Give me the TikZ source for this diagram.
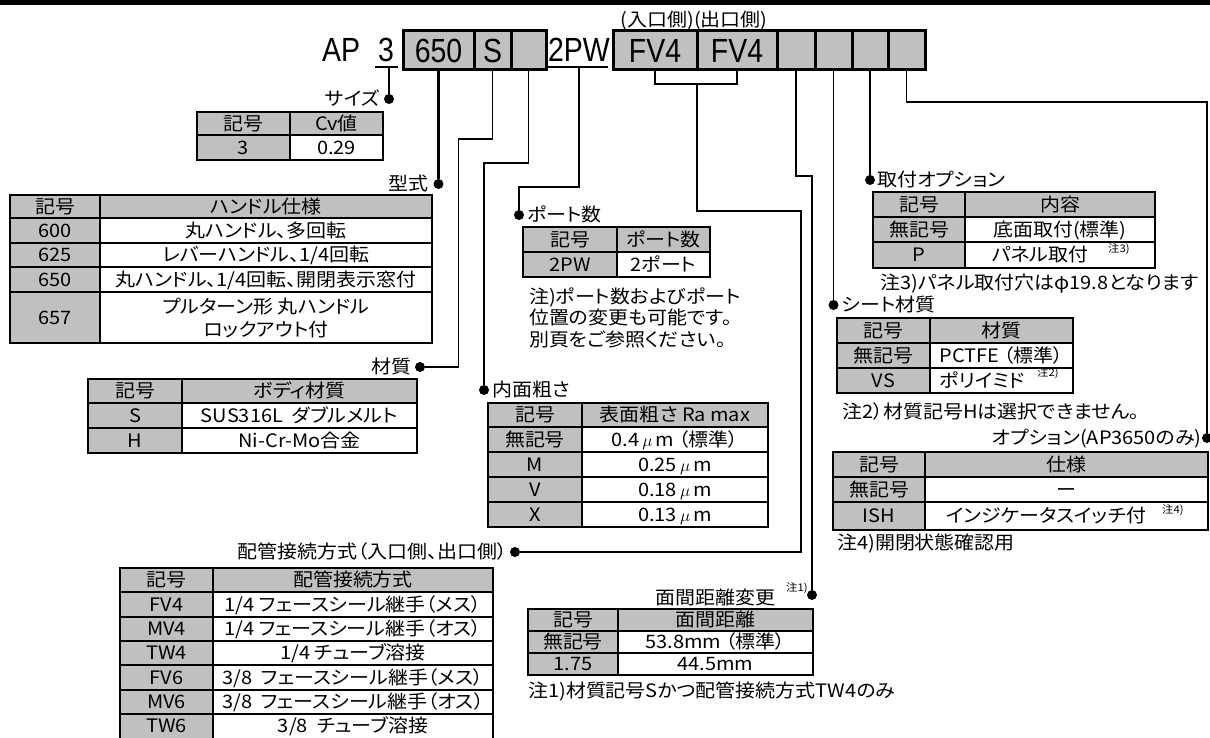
\documentclass[tikz,border=0pt]{standalone}
\usepackage{fontspec}
\setmainfont{Noto Sans CJK JP}[RawFeature=+palt, FakeStretch=1.08]
\newfontfamily\bigfont{Liberation Sans}[FakeStretch=0.85]
\usetikzlibrary{positioning}
\definecolor{cellgray}{RGB}{192,192,192}

\begin{document}
\begin{tikzpicture}[x=1pt, y=-1pt,
        bigtext/.style={font=\bigfont\fontsize{33.5}{34}\selectfont, inner sep=0pt, text height=24pt, text depth=0pt},
        hcell/.style={bigtext, draw, fill=cellgray, line width=3pt, outer sep=0pt, minimum height=39pt},
        ctext/.style={font=\fontsize{18.5}{20}\selectfont, inner sep=0pt, text height=13.9pt, text depth=0pt},
        lbl/.style={ctext},
        notetext/.style={ctext, anchor=west},
        supnote/.style={font=\fontsize{10.5}{11}\selectfont, inner sep=0pt, anchor=west},
        hd/.style={fill=cellgray},
        tabframe/.style={line width=2.4pt},
        tabrule/.style={line width=1.8pt},
        wire/.style={line width=1.3pt},
        wirebold/.style={line width=2.2pt},
        jdot/.style={circle, fill=black, inner sep=0pt, minimum size=10pt}]
    \path[use as bounding box] (0,0) rectangle (1210,738);
    \clip (0,0) rectangle (1210,738);

    \fill (0,0) rectangle (1210,5);

    \node[bigtext] (ap) at (341,50) {AP};
    \node[bigtext] (n3) at (386,50) {3};
    \draw[wire] (375,67) -- (398,67);
    \coordinate (u3) at (389,67);
    \node[hcell, minimum width=71pt] (c650) at (438.5,50.5) {650};
    \node[hcell, minimum width=37pt, right=0pt of c650] (cS) {S};
    \node[hcell, minimum width=35pt, right=0pt of cS] (cB) {};
    \node[bigtext] (n2pw) at (579,50) {2PW};
    \draw[wire] (548,67) -- (608,67);
    \coordinate (u2) at (579,67);
    \node[hcell, minimum width=84pt] (cIn) at (655,50.5) {FV4};
    \node[hcell, minimum width=80pt, right=0pt of cIn] (cOut) {FV4};
    \node[hcell, minimum width=38pt, right=0pt of cOut] (c1) {};
    \node[hcell, minimum width=37pt, right=0pt of c1] (c2) {};
    \node[hcell, minimum width=36pt, right=0pt of c2] (c3) {};
    \node[hcell, minimum width=37pt, right=0pt of c3] (c4) {};
    \node[lbl] (side) at (694,20) {(入口側)(出口側)};

    \node[jdot] (dSize) at (389,99) {};
    \node[jdot] (dType) at (438.5,184) {};
    \node[jdot] (dBody) at (420,367) {};
    \node[jdot] (dPort) at (519,215) {};
    \node[jdot] (dRough) at (484,390) {};
    \node[jdot] (dPipe) at (515,552) {};
    \node[jdot] (dFace) at (812,595) {};
    \node[jdot] (dMount) at (870,180) {};
    \node[jdot] (dSeat) at (833.5,305) {};
    \node[jdot] (dOpt) at (1207,438) {};

    \draw[wirebold] (u3) -- (dSize);
    \draw[wirebold] (c650.south) -- (dType);
    \draw[wire] (cS.south) |- ++(-34,69) |- (dBody);
    \draw[wire] (cB.south) |- ++(-44.5,93) -- (dRough);
    \draw[wire] (u2) |- ++(-60,120) -- (dPort);
    \coordinate (fvj) at (697,84);
    \draw[wire] (cIn.south) |- (fvj) -| (cOut.south);
    \draw[wire] (fvj) |- ++(104,127) |- (dPipe);
    \draw[wire] (c1.south) |- ++(16,106) -- (dFace);
    \draw[wire] (c2.south) -- (dSeat);
    \draw[wirebold] (c3.south) -- (dMount);
    \draw[wire] (c4.south) |- ++(300.5,32) -- (dOpt);

    \node[lbl, left=4pt of dSize] (lSize) {サイズ};
    \node[lbl, left=5pt of dType] (lType) {型式};
    \node[lbl, left=3pt of dBody] (lBody) {材質};
    \node[lbl, right=3pt of dPort] (lPort) {ポート数};
    \node[lbl, right=3pt of dRough] (lRough) {内面粗さ};
    \node[lbl, left=2pt of dPipe] (lPipe) {配管接続方式（入口側、出口側）};
    \node[lbl, anchor=east] (lFace) at (776,598) {面間距離変更};
    \node[supnote] (sFace) at (786,588) {注1)};
    \node[lbl, right=2pt of dMount] (lMount) {取付オプション};
    \node[lbl, right=3pt of dSeat] (lSeat) {シート材質};
    \node[lbl, left=0pt of dOpt] (lOpt) {オプション(AP3650のみ)};

    \fill[hd] (197,112) rectangle (383,135) (197,135) rectangle (290,160);
    \draw[tabrule] (290,112) -- (290,160) (197,135) -- (383,135);
    \draw[tabframe] (197,112) rectangle (383,160);
    \node[ctext] (sz00) at (243.5,123.5) {記号};
    \node[ctext] (sz01) at (336.5,123.5) {Cv値};
    \node[ctext] (sz10) at (243.5,147.5) {3};
    \node[ctext] (sz11) at (336.5,147.5) {0.29};

    \fill[hd] (10,195) rectangle (432,218) (10,218) rectangle (100,343);
    \draw[tabrule] (100,195) -- (100,343) (10,218) -- (432,218) (10,243) -- (432,243)
        (10,267) -- (432,267) (10,292) -- (432,292);
    \draw[tabframe] (10,195) rectangle (432,343);
    \node[ctext] (ty00) at (55,206.5) {記号};
    \node[ctext] (ty01) at (266,206.5) {ハンドル仕様};
    \node[ctext] (ty10) at (55,230.5) {600};
    \node[ctext] (ty11) at (266,230.5) {丸ハンドル、多回転};
    \node[ctext] (ty20) at (55,255) {625};
    \node[ctext] (ty21) at (266,255) {レバーハンドル、1/4回転};
    \node[ctext] (ty30) at (55,279.5) {650};
    \node[ctext] (ty31) at (266,279.5) {丸ハンドル、1/4回転、開閉表示窓付};
    \node[ctext] (ty40) at (55,317.5) {657};
    \node[ctext] (ty41) at (266,307) {プルターン形 丸ハンドル};
    \node[ctext] (ty42) at (266,330) {ロックアウト付};

    \fill[hd] (88,379) rectangle (417,403) (88,403) rectangle (182,453);
    \draw[tabrule] (182,379) -- (182,453) (88,403) -- (417,403) (88,428) -- (417,428);
    \draw[tabframe] (88,379) rectangle (417,453);
    \node[ctext] (bo00) at (135,391) {記号};
    \node[ctext] (bo01) at (299.5,391) {ボディ材質};
    \node[ctext] (bo10) at (135,415.5) {S};
    \node[ctext] (bo11) at (299.5,415.5) {SUS316L\ \ ダブルメルト};
    \node[ctext] (bo20) at (135,440.5) {H};
    \node[ctext] (bo21) at (299.5,440.5) {Ni-Cr-Mo合金};

    \fill[hd] (523,227) rectangle (710,252) (523,252) rectangle (617,277);
    \draw[tabrule] (617,227) -- (617,277) (523,252) -- (710,252);
    \draw[tabframe] (523,227) rectangle (710,277);
    \node[ctext] (po00) at (570,239.5) {記号};
    \node[ctext] (po01) at (663.5,239.5) {ポート数};
    \node[ctext] (po10) at (570,264.5) {2PW};
    \node[ctext] (po11) at (663.5,264.5) {2ポート};
    \node[notetext] (poN1) at (529,297) {注)ポート数およびポート};
    \node[notetext] (poN2) at (529,318) {位置の変更も可能です。};
    \node[notetext] (poN3) at (529,340) {別頁をご参照ください。};

    \fill[hd] (488,403) rectangle (768,427) (488,427) rectangle (582,527);
    \draw[tabrule] (582,403) -- (582,527) (488,427) -- (768,427) (488,452) -- (768,452)
        (488,477) -- (768,477) (488,502) -- (768,502);
    \draw[tabframe] (488,403) rectangle (768,527);
    \node[ctext] (ro00) at (535,415) {記号};
    \node[ctext] (ro01) at (675,415) {表面粗さ Ra max};
    \node[ctext] (ro10) at (535,439.5) {無記号};
    \node[ctext] (ro11) at (675,439.5) {0.4\,$\mu$\,m （標準）};
    \node[ctext] (ro20) at (535,464.5) {M};
    \node[ctext] (ro21) at (675,464.5) {0.25\,$\mu$\,m};
    \node[ctext] (ro30) at (535,489.5) {V};
    \node[ctext] (ro31) at (675,489.5) {0.18\,$\mu$\,m};
    \node[ctext] (ro40) at (535,514.5) {X};
    \node[ctext] (ro41) at (675,514.5) {0.13\,$\mu$\,m};

    \fill[hd] (120,568) rectangle (493,592) (120,592) rectangle (213,739);
    \draw[tabrule] (213,568) -- (213,739) (120,592) -- (493,592) (120,617) -- (493,617)
        (120,641) -- (493,641) (120,665) -- (493,665) (120,690) -- (493,690) (120,714) -- (493,714);
    \draw[tabframe] (120,568) rectangle (493,739);
    \node[ctext] (pi00) at (166.5,580) {記号};
    \node[ctext] (pi01) at (353,580) {配管接続方式};
    \node[ctext] (pi10) at (166.5,604.5) {FV4};
    \node[ctext] (pi11) at (353,604.5) {1/4 フェースシール継手（メス）};
    \node[ctext] (pi20) at (166.5,629) {MV4};
    \node[ctext] (pi21) at (353,629) {1/4 フェースシール継手（オス）};
    \node[ctext] (pi30) at (166.5,653) {TW4};
    \node[ctext] (pi31) at (353,653) {1/4 チューブ溶接};
    \node[ctext] (pi40) at (166.5,677.5) {FV6};
    \node[ctext] (pi41) at (353,677.5) {3/8\ \ フェースシール継手（メス）};
    \node[ctext] (pi50) at (166.5,702) {MV6};
    \node[ctext] (pi51) at (353,702) {3/8\ \ フェースシール継手（オス）};
    \node[ctext] (pi60) at (166.5,726) {TW6};
    \node[ctext] (pi61) at (353,726) {3/8\ \ チューブ溶接};

    \fill[hd] (528,609) rectangle (813,631) (528,631) rectangle (618,675);
    \draw[tabrule] (618,609) -- (618,675) (528,631) -- (813,631) (528,653) -- (813,653);
    \draw[tabframe] (528,609) rectangle (813,675);
    \node[ctext] (fa00) at (573,620) {記号};
    \node[ctext] (fa01) at (715.5,620) {面間距離};
    \node[ctext] (fa10) at (573,642) {無記号};
    \node[ctext] (fa11) at (715.5,642) {53.8mm （標準）};
    \node[ctext] (fa20) at (573,664) {1.75};
    \node[ctext] (fa21) at (715.5,664) {44.5mm};
    \node[notetext] (faN) at (528,691) {注1)材質記号Sかつ配管接続方式TW4のみ};

    \fill[hd] (873,192) rectangle (1155,217) (873,217) rectangle (965,268);
    \draw[tabrule] (965,192) -- (965,268) (873,217) -- (1155,217) (873,242) -- (1155,242);
    \draw[tabframe] (873,192) rectangle (1155,268);
    \node[ctext] (mo00) at (919,204.5) {記号};
    \node[ctext] (mo01) at (1060,204.5) {内容};
    \node[ctext] (mo10) at (919,229.5) {無記号};
    \node[ctext] (mo11) at (1060,229.5) {底面取付(標準)};
    \node[ctext] (mo20) at (919,255) {P};
    \node[ctext] (mo21) at (1040,255) {パネル取付};
    \node[supnote] (mo22) at (1108,249) {注3)};
    \node[notetext] (moN) at (880,283) {注3)パネル取付穴はφ19.8となります};

    \fill[hd] (837,318) rectangle (1073,343) (837,343) rectangle (930,393);
    \draw[tabrule] (930,318) -- (930,393) (837,343) -- (1073,343) (837,368) -- (1073,368);
    \draw[tabframe] (837,318) rectangle (1073,393);
    \node[ctext] (se00) at (883.5,330.5) {記号};
    \node[ctext] (se01) at (1001.5,330.5) {材質};
    \node[ctext] (se10) at (883.5,355.5) {無記号};
    \node[ctext] (se11) at (1001.5,355.5) {PCTFE （標準）};
    \node[ctext] (se20) at (883.5,380.5) {VS};
    \node[ctext] (se21) at (982,380.5) {ポリイミド};
    \node[supnote] (se22) at (1037,373) {注2)};
    \node[notetext] (seN) at (842,412) {注2）材質記号Hは選択できません。};

    \fill[hd] (833,452) rectangle (1208,477) (833,477) rectangle (925,530);
    \draw[tabrule] (925,452) -- (925,530) (833,477) -- (1208,477) (833,502) -- (1208,502);
    \draw[tabframe] (833,452) rectangle (1208,530);
    \node[ctext] (op00) at (879,464.5) {記号};
    \node[ctext] (op01) at (1066.5,464.5) {仕様};
    \node[ctext] (op10) at (879,489.5) {無記号};
    \node[ctext] (op11) at (1066.5,489.5) {ー};
    \node[ctext] (op20) at (879,516) {ISH};
    \node[ctext] (op21) at (1046,516) {インジケータスイッチ付};
    \node[supnote] (op22) at (1162,510) {注4)};
    \node[notetext] (opN) at (837,543) {注4)開閉状態確認用};
\end{tikzpicture}
\end{document}
